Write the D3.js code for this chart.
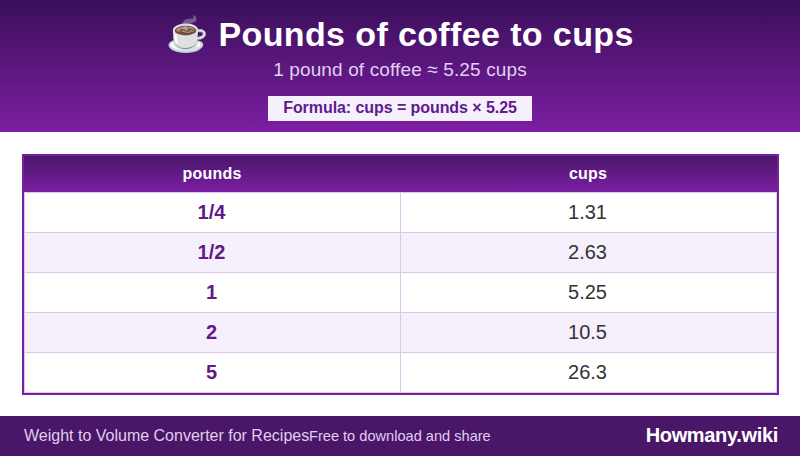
<!DOCTYPE html>
<meta charset="utf-8">
<script src="https://d3js.org/d3.v7.min.js"></script>
<style>
  html, body { margin: 0; padding: 0; background: #fff; overflow: hidden; }
  svg { display: block; }
  text { font-family: "Liberation Sans", Arial, sans-serif; }
</style>
<body>
<div id="my_dataviz"></div>
<script>
// table contents
var columns = ["pounds", "cups"];
var pounds = ["1/4", "1/2", "1", "2", "5"];
var cups = ["1.31", "2.63", "5.25", "10.5", "26.3"];

var titleText = "\u2615 Pounds of coffee to cups";
var subtitleText = "1 pound of coffee \u2248 5.25 cups";
var formulaText = "Formula: cups = pounds \u00d7 5.25";
var footerLeft = "Weight to Volume Converter for Recipes";
var footerMiddle = "Free to download and share";
var footerRight = "Howmany.wiki";

var width = 800, height = 456;
var lineColor = "#dcc6ea";

var svg = d3.select("#my_dataviz").append("svg")
  .attr("width", width)
  .attr("height", height);

var defs = svg.append("defs");

function gradient(id, stops) {
  var g = defs.append("linearGradient").attr("id", id)
    .attr("x1", 0).attr("y1", 0).attr("x2", 0).attr("y2", 1);
  g.append("stop").attr("offset", "0%").attr("stop-color", stops[0]);
  g.append("stop").attr("offset", "100%").attr("stop-color", stops[1]);
}
gradient("headGrad", ["#3a0f5a", "#7b1fa2"]);
gradient("thGrad", ["#4a1668", "#7b1fa2"]);

// top banner
svg.append("rect").attr("width", width).attr("height", 132).attr("fill", "url(#headGrad)");

svg.append("text")
  .attr("x", 400).attr("y", 45.5)
  .attr("text-anchor", "middle")
  .attr("font-size", 34).attr("font-weight", "bold")
  .attr("letter-spacing", 0.38)
  .attr("fill", "#fff")
  .text(titleText);

svg.append("text")
  .attr("x", 400).attr("y", 76)
  .attr("text-anchor", "middle")
  .attr("font-size", 19)
  .attr("letter-spacing", 0.13)
  .attr("fill", "#e1d0ee")
  .text(subtitleText);

svg.append("rect")
  .attr("x", 268).attr("y", 96).attr("width", 264).attr("height", 25)
  .attr("fill", "#f5f0fb");

svg.append("text")
  .attr("x", 400).attr("y", 113)
  .attr("text-anchor", "middle")
  .attr("font-size", 16).attr("font-weight", "bold")
  .attr("letter-spacing", -0.07)
  .attr("fill", "#601a8c")
  .text(formulaText);

// table
var x = d3.scaleBand().domain(columns).range([24, 776]);
var y = d3.scaleBand().domain(pounds).range([192, 392]);

var rows = pounds.map(function(p, i) { return {pounds: p, cups: cups[i], i: i}; });

svg.selectAll(".row").data(rows).enter().append("rect")
  .attr("class", "row")
  .attr("x", 24)
  .attr("y", function(d) { return y(d.pounds); })
  .attr("width", 753)
  .attr("height", y.bandwidth())
  .attr("fill", function(d) { return d.i % 2 ? "#f5f0fb" : "#fff"; });

// row lines, one on top of each row plus the closing one
svg.selectAll(".rowline").data(pounds.map(y).concat([y.range()[1]])).enter().append("rect")
  .attr("class", "rowline")
  .attr("x", 24)
  .attr("y", function(d) { return d; })
  .attr("width", 753)
  .attr("height", 1)
  .attr("fill", lineColor);

// column lines
svg.selectAll(".colline").data([24, x("cups"), 776]).enter().append("rect")
  .attr("class", "colline")
  .attr("x", function(d) { return d; })
  .attr("y", 192)
  .attr("width", 1).attr("height", 201)
  .attr("fill", lineColor);

// header row
svg.append("rect")
  .attr("x", 24).attr("y", 156)
  .attr("width", 753).attr("height", 36)
  .attr("fill", "url(#thGrad)");

svg.selectAll(".th").data(columns).enter().append("text")
  .attr("class", "th")
  .attr("x", function(d) { return x(d) + x.bandwidth() / 2; })
  .attr("y", 179)
  .attr("text-anchor", "middle")
  .attr("font-size", 16).attr("font-weight", "bold")
  .attr("letter-spacing", 0.2)
  .attr("fill", "#fff")
  .text(function(d) { return d; });

svg.selectAll(".pounds").data(rows).enter().append("text")
  .attr("class", "pounds")
  .attr("x", x("pounds") + x.bandwidth() / 2 - 0.5)
  .attr("y", function(d) { return y(d.pounds) + 27; })
  .attr("text-anchor", "middle")
  .attr("font-size", 20).attr("font-weight", "bold")
  .attr("fill", "#601a8c")
  .text(function(d) { return d.pounds; });

svg.selectAll(".cups").data(rows).enter().append("text")
  .attr("class", "cups")
  .attr("x", x("cups") + x.bandwidth() / 2 - 0.5)
  .attr("y", function(d) { return y(d.pounds) + 27; })
  .attr("text-anchor", "middle")
  .attr("font-size", 20)
  .attr("fill", "#333")
  .text(function(d) { return d.cups; });

// outer border
svg.append("rect")
  .attr("x", 23).attr("y", 155)
  .attr("width", 755).attr("height", 239)
  .attr("fill", "none")
  .attr("stroke", "#7b1fa2").attr("stroke-width", 2);

// footer
svg.append("rect").attr("y", 416).attr("width", width).attr("height", 40).attr("fill", "#4a1668");

svg.append("text")
  .attr("x", 24).attr("y", 441)
  .attr("font-size", 16)
  .attr("fill", "#e1cdee")
  .text(footerLeft);

svg.append("text")
  .attr("x", 309).attr("y", 441)
  .attr("font-size", 14.6)
  .attr("fill", "#e1cdee")
  .text(footerMiddle);

svg.append("text")
  .attr("x", 778).attr("y", 441.5)
  .attr("text-anchor", "end")
  .attr("font-size", 20).attr("font-weight", "bold")
  .attr("letter-spacing", -0.33)
  .attr("fill", "#fff")
  .text(footerRight);
</script>
</body>
